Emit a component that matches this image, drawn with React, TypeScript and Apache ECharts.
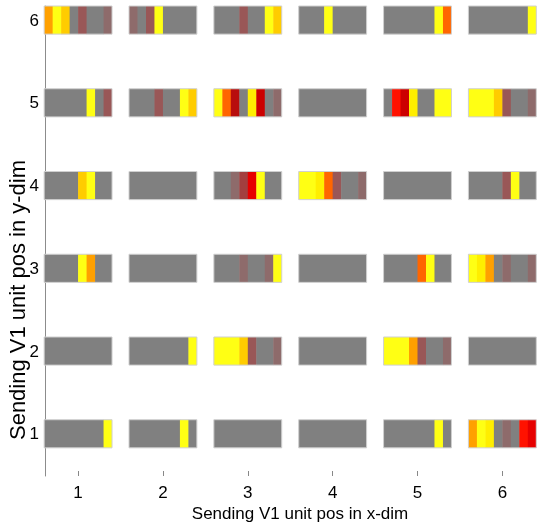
import React, { useEffect, useRef } from "react";
import * as echarts from "echarts";

// x / y unit positions and tick labels
const xPositions = [1, 2, 3, 4, 5, 6];
const yPositions = [1, 2, 3, 4, 5, 6];
const tickLabels = ["1", "2", "3", "4", "5", "6"];

// colour levels (0 = gray ... 12 = bright yellow)
const levelColors = [
  "#808080", "#8e6b6b", "#995757", "#a33f3f", "#b80d0d", "#cc0000",
  "#e60000", "#ff1200", "#ff6600", "#ffa000", "#ffcc00", "#ffee00", "#ffff14",
];

// stripe levels for each block, 8 stripes per block, blocks ordered x = 1..6
const row1 = [
  [0, 0, 0, 0, 0, 0, 0, 12],
  [0, 0, 0, 0, 0, 0, 12, 0],
  [0, 0, 0, 0, 0, 0, 0, 0],
  [0, 0, 0, 0, 0, 0, 0, 0],
  [0, 0, 0, 0, 0, 0, 12, 0],
  [9, 12, 11, 0, 1, 0, 7, 6],
];
const row2 = [
  [0, 0, 0, 0, 0, 0, 0, 0],
  [0, 0, 0, 0, 0, 0, 0, 12],
  [12, 12, 12, 10, 2, 0, 0, 1],
  [0, 0, 0, 0, 0, 0, 0, 0],
  [12, 12, 12, 9, 2, 0, 0, 1],
  [0, 0, 0, 0, 0, 0, 0, 0],
];
const row3 = [
  [0, 0, 0, 0, 12, 9, 0, 0],
  [0, 0, 0, 0, 0, 0, 0, 0],
  [0, 0, 0, 1, 0, 0, 1, 12],
  [0, 0, 0, 0, 0, 0, 0, 0],
  [0, 0, 0, 0, 8, 12, 0, 0],
  [12, 11, 9, 0, 1, 0, 0, 1],
];
const row4 = [
  [0, 0, 0, 0, 10, 12, 0, 0],
  [0, 0, 0, 0, 0, 0, 0, 0],
  [0, 0, 1, 3, 6, 12, 0, 0],
  [12, 12, 11, 8, 2, 0, 0, 1],
  [0, 0, 0, 0, 0, 0, 0, 0],
  [0, 0, 0, 0, 2, 12, 0, 0],
];
const row5 = [
  [0, 0, 0, 0, 0, 12, 0, 2],
  [0, 0, 0, 2, 0, 0, 12, 10],
  [12, 8, 4, 0, 11, 5, 0, 1],
  [0, 0, 0, 0, 0, 0, 0, 0],
  [0, 7, 5, 11, 0, 0, 12, 12],
  [12, 12, 12, 10, 2, 0, 0, 1],
];
const row6 = [
  [9, 12, 10, 0, 2, 0, 0, 1],
  [1, 0, 2, 12, 0, 0, 0, 0],
  [0, 0, 0, 2, 0, 0, 12, 10],
  [0, 0, 0, 12, 0, 0, 0, 0],
  [0, 0, 0, 0, 0, 0, 12, 8],
  [0, 0, 0, 0, 0, 0, 0, 12],
];
const rows = [row1, row2, row3, row4, row5, row6];

const xTitle = "Sending V1 unit pos in x-dim";
const yTitle = "Sending V1 unit pos in y-dim";

export default function App() {
  const ref = useRef<HTMLDivElement>(null);
  useEffect(() => {
    if (!ref.current) return;
    const chart = echarts.init(ref.current, null, { renderer: "svg" });
    const HALF_W = 0.4;
    const HALF_H = 0.17;
    const blockData: number[][] = [];
    const blockStripes: number[][] = [];
    rows.forEach((row, yi) => {
      row.forEach((stripes, xi) => {
        blockData.push([xPositions[xi], yPositions[yi], blockStripes.length]);
        blockStripes.push(stripes);
      });
    });
    const font = "'Liberation Sans', Arial, sans-serif";
    chart.setOption({
      animation: false,
      grid: { left: 45, right: 1, top: 6, bottom: 51 },
      xAxis: {
        type: "value",
        min: 0.61,
        max: 6.42,
        axisLine: { show: false },
        splitLine: { show: false },
        axisTick: {
          show: true,
          inside: true,
          length: 5,
          customValues: xPositions,
          lineStyle: { color: "#888" },
        },
        axisLabel: {
          customValues: xPositions,
          formatter: (v: number) => tickLabels[Math.round(v) - 1] ?? "",
          fontSize: 17,
          color: "#000",
          fontFamily: font,
          margin: 8,
        },
      },
      yAxis: {
        type: "value",
        min: 0.49,
        max: 6.17,
        axisLine: { show: true, lineStyle: { color: "#8c8c8c", width: 1 } },
        splitLine: { show: false },
        axisTick: {
          show: true,
          inside: true,
          length: 4,
          customValues: yPositions,
          lineStyle: { color: "#888" },
        },
        axisLabel: {
          customValues: yPositions,
          formatter: (v: number) => tickLabels[Math.round(v) - 1] ?? "",
          fontSize: 17,
          color: "#000",
          fontFamily: font,
          margin: 6,
        },
      },
      graphic: [
        {
          type: "text",
          x: 300,
          y: 513,
          style: {
            text: xTitle,
            fontSize: 17,
            fill: "#000",
            fontFamily: font,
            textAlign: "center",
            textVerticalAlign: "middle",
          },
        },
        {
          type: "text",
          x: 17,
          y: 300,
          rotation: Math.PI / 2,
          style: {
            text: yTitle,
            fontSize: 22,
            fill: "#000",
            fontFamily: font,
            textAlign: "center",
            textVerticalAlign: "middle",
          },
        },
      ],
      series: [
        {
          type: "custom",
          coordinateSystem: "cartesian2d",
          data: blockData,
          encode: { x: 0, y: 1 },
          renderItem: (params: any, api: any) => {
            const x = api.value(0);
            const y = api.value(1);
            const stripes = blockStripes[api.value(2)];
            const w = (2 * HALF_W) / stripes.length;
            const children: any[] = [];
            let k = 0;
            while (k < stripes.length) {
              let e = k;
              while (e + 1 < stripes.length && stripes[e + 1] === stripes[k]) e++;
              const p0 = api.coord([x - HALF_W + k * w, y + HALF_H]);
              const p1 = api.coord([x - HALF_W + (e + 1) * w, y - HALF_H]);
              const last = e === stripes.length - 1;
              children.push({
                type: "rect",
                shape: {
                  x: p0[0],
                  y: p0[1],
                  width: p1[0] - p0[0] + (last ? 0 : 0.5),
                  height: p1[1] - p0[1],
                },
                style: { fill: levelColors[stripes[k]] },
              });
              k = e + 1;
            }
            const b0 = api.coord([x - HALF_W, y + HALF_H]);
            const b1 = api.coord([x + HALF_W, y - HALF_H]);
            children.push({
              type: "rect",
              shape: { x: b0[0], y: b0[1], width: b1[0] - b0[0], height: b1[1] - b0[1] },
              style: { fill: "none", stroke: "#d0d0d0", lineWidth: 1 },
            });
            return { type: "group", children };
          },
        },
      ],
    });
    return () => chart.dispose();
  }, []);
  return (
    <div
      ref={ref}
      style={{ position: "fixed", left: 0, top: 0, width: 539, height: 527 }}
    />
  );
}
